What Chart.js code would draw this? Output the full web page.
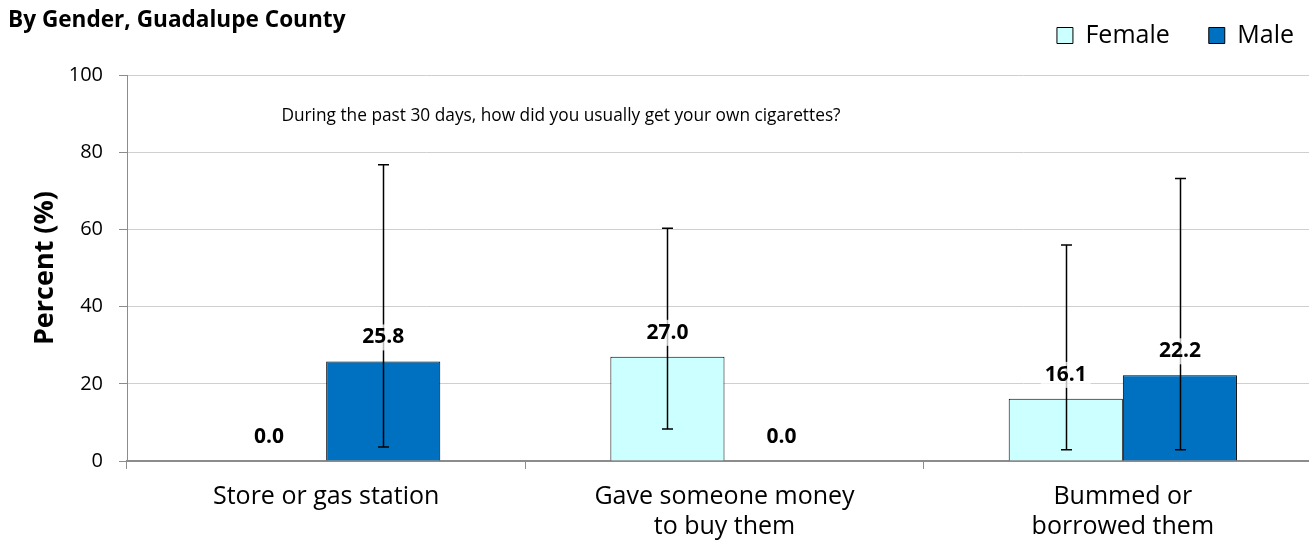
<!DOCTYPE html>
<html><head><meta charset="utf-8">
<script src="https://cdn.jsdelivr.net/npm/chart.js@4"></script>
<style>html,body{margin:0;padding:0;background:#fff;overflow:hidden;width:1309px;height:550px}canvas{display:block}</style>
</head><body><canvas id="c" width="1330" height="550"></canvas>
<script>
const categories = [["Store or gas station"], ["Gave someone money", "to buy them"], ["Bummed or", "borrowed them"]];
const seriesNames = ["Female", "Male"];
const femaleValues = [0.0, 27.0, 16.1];
const maleValues = [25.8, 0.0, 22.2];
const femaleLower = [null, 8.3, 2.9];
const femaleUpper = [null, 60.3, 56.0];
const maleLower = [3.6, null, 2.9];
const maleUpper = [76.8, null, 73.2];
const yTicks = [0, 20, 40, 60, 80, 100];
const titleText = "By Gender, Guadalupe County";
const questionText = "During the past 30 days, how did you usually get your own cigarettes?";
const yAxisTitle = "Percent (%)";

const FONT = "'Open Sans', 'DejaVu Sans', sans-serif";
const errors = [[femaleLower, femaleUpper], [maleLower, maleUpper]];

const legendPlacer = {
  id: 'legendPlacer',
  afterLayout(chart) {
    const lg = chart.legend;
    if (!lg) return;
    lg.left = 900; lg.right = 1333;
    lg.top = -16; lg.bottom = 70;
    lg.width = lg.right - lg.left; lg.height = lg.bottom - lg.top;
  }
};

const questionPlugin = {
  id: 'question',
  beforeDatasetsDraw(chart) {
    const {ctx, chartArea} = chart;
    ctx.save();
    ctx.font = "17.3px " + FONT;
    ctx.fillStyle = '#000';
    ctx.textAlign = 'center';
    ctx.textBaseline = 'middle';
    ctx.fillText(questionText, chartArea.left + 434, chartArea.top + 41);
    ctx.restore();
  }
};

const errorBarPlugin = {
  id: 'errorBars',
  afterDatasetsDraw(chart) {
    const {ctx} = chart;
    const y = chart.scales.y;
    ctx.save();
    ctx.strokeStyle = '#000';
    ctx.lineWidth = 1.5;
    chart.data.datasets.forEach((ds, di) => {
      const meta = chart.getDatasetMeta(di);
      const [lo, hi] = errors[di];
      meta.data.forEach((bar, i) => {
        if (lo[i] == null || hi[i] == null) return;
        const x = Math.round(bar.x) + 0.5;
        const yt = y.getPixelForValue(hi[i]);
        const yb = y.getPixelForValue(lo[i]);
        ctx.beginPath();
        ctx.moveTo(x, yt); ctx.lineTo(x, yb);
        ctx.moveTo(x - 5.5, yt); ctx.lineTo(x + 5.5, yt);
        ctx.moveTo(x - 5.5, yb); ctx.lineTo(x + 5.5, yb);
        ctx.stroke();
      });
    });
    ctx.restore();
  }
};

const dataLabelPlugin = {
  id: 'dataLabels',
  afterDatasetsDraw(chart) {
    const {ctx} = chart;
    ctx.save();
    ctx.font = "bold 21px " + FONT;
    ctx.textAlign = 'center';
    ctx.textBaseline = 'middle';
    chart.data.datasets.forEach((ds, di) => {
      const meta = chart.getDatasetMeta(di);
      meta.data.forEach((bar, i) => {
        const txt = ds.data[i].toFixed(1);
        const w = ctx.measureText(txt).width;
        const cx = bar.x, cy = bar.y - 24;
        ctx.fillStyle = 'rgba(255,255,255,0.72)';
        ctx.fillRect(cx - w / 2 - 4, cy - 13, w + 8, 26);
        ctx.fillStyle = '#000';
        ctx.fillText(txt, cx, cy);
      });
    });
    ctx.restore();
  }
};

new Chart(document.getElementById('c'), {
  type: 'bar',
  data: {
    labels: categories,
    datasets: [
      { label: seriesNames[0], data: femaleValues, backgroundColor: '#CCFFFF', borderColor: '#000', borderWidth: 1,
        categoryPercentage: 0.573, barPercentage: 1.0 },
      { label: seriesNames[1], data: maleValues, backgroundColor: '#0070C0', borderColor: '#000', borderWidth: 1,
        categoryPercentage: 0.573, barPercentage: 1.0 }
    ]
  },
  options: {
    responsive: false,
    animation: false,
    layout: { padding: { left: 8, right: 8, top: 0, bottom: 0 } },
    plugins: {
      title: {
        display: true, text: titleText, align: 'start', color: '#000',
        font: { family: FONT, size: 22.6, weight: 'bold', lineHeight: 1.2 },
        padding: { top: 7, bottom: 40 }
      },
      legend: {
        display: true, position: 'top', align: 'end', maxHeight: 1,
        labels: { color: '#000', boxWidth: 16, boxHeight: 16, padding: 39,
          font: { family: FONT, size: 25 } }
      },
      tooltip: { enabled: false }
    },
    scales: {
      x: {
        grid: { display: true, drawOnChartArea: false, drawTicks: true, tickLength: 8, color: '#8c8c8c', offset: true },
        border: { display: true, color: '#8c8c8c', width: 2 },
        ticks: { color: '#000', padding: 13, maxRotation: 0, autoSkip: false,
          font: { family: FONT, size: 25, lineHeight: 1.2 } },
        afterFit(s) { s.height = 89; }
      },
      y: {
        min: 0, max: 100,
        afterBuildTicks(s) { s.ticks = yTicks.map(v => ({ value: v })); },
        grid: { color: '#cfcfcf', tickColor: '#8c8c8c', tickLength: 8, lineWidth: 1 },
        border: { display: true, color: '#8c8c8c', width: 1 },
        ticks: { color: '#000', padding: 16, font: { family: FONT, size: 20 } },
        title: { display: true, text: yAxisTitle, color: '#000', padding: { top: 21, bottom: 0 },
          font: { family: FONT, size: 27, weight: 'bold', lineHeight: 1.2 } },
        afterFit(s) { s.width = 119; }
      }
    }
  },
  plugins: [legendPlacer, questionPlugin, errorBarPlugin, dataLabelPlugin]
});
</script>
</body></html>
